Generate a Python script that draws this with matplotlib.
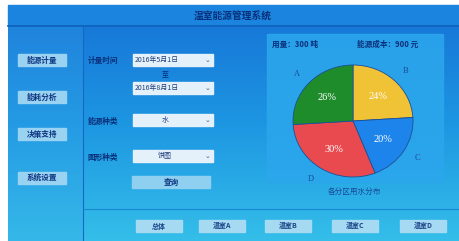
import numpy as np
import matplotlib
matplotlib.use("Agg")
import matplotlib.pyplot as plt
from matplotlib.patches import Rectangle

plt.rcParams['font.family'] = ['Noto Sans CJK SC', 'DejaVu Sans']

title = "温室能源管理系统"
menu_items = ["能源计量", "能耗分析", "决策支持", "系统设置"]
date_from = "2016年5月1日"
date_to = "2016年8月1日"
energy_kind = "水"
chart_kind = "饼图"
usage_text = "用量：300 吨"
cost_text = "能源成本：900 元"
pie_title = "各分区用水分布"
tabs = ["总体", "温室A", "温室B", "温室C", "温室D"]

zones = ["B", "C", "D", "A"]
shares = [24, 20, 30, 26]
zone_colors = ["#f0c235", "#1c84ea", "#e84a4f", "#1f8c2c"]

W, H = 459, 241
fig = plt.figure(figsize=(W / 100, H / 100), dpi=100)
fig.patch.set_facecolor("white")

ui = fig.add_axes([0, 0, 1, 1])
ui.set_xlim(0, W)
ui.set_ylim(H, 0)
ui.axis("off")

# screen background gradient
grad = np.linspace(0, 1, 200).reshape(-1, 1)
cmap = matplotlib.colors.LinearSegmentedColormap.from_list("bg", ["#1672d6", "#1d96e2", "#34bee9"])
ui.imshow(grad, extent=(8, W, H, 5), cmap=cmap, aspect="auto", zorder=0)
ui.add_patch(Rectangle((8, 26), 75, H - 26, color="#3aa8ea", alpha=0.25, lw=0, zorder=1))

# title bar
ui.add_patch(Rectangle((8, 5), W - 8, 21, color="#1a84de", zorder=1))
ui.plot([8, W], [26, 26], color="#0f5fb8", lw=1.2, zorder=2)
ui.text(233, 16, title, ha="center", va="center", fontsize=7, color="#0a2f7a", weight="bold", zorder=3)

# left menu panel
ui.plot([83, 83], [26, H], color="#1568c4", lw=0.8, zorder=2)
menu_y = [60, 97, 134, 178]
for label, y in zip(menu_items, menu_y):
    ui.add_patch(Rectangle((18, y - 6), 48, 12, color="#9ad2f2", zorder=2))
    ui.text(42, y, label, ha="center", va="center", fontsize=5.5, color="#0e357f", weight="bold", zorder=3)

# bottom bar
ui.plot([83, W], [209, 209], color="#1a86d0", lw=0.8, zorder=2)
tab_x = [159, 222, 288, 355, 423]
for label, x in zip(tabs, tab_x):
    ui.add_patch(Rectangle((x - 23, 220), 46, 12, color="#a6daf2", zorder=2))
    ui.text(x, 226, label, ha="center", va="center", fontsize=5, color="#1a4388", weight="bold", zorder=3)

# query form
def dropdown(y, text, center=False):
    ui.add_patch(Rectangle((133, y - 6), 80, 12, color="#e4f1fb", zorder=2))
    if center:
        ui.text(165, y, text, ha="center", va="center", fontsize=5, color="#1f3f7a", zorder=3)
    else:
        ui.text(135, y, text, ha="left", va="center", fontsize=5, color="#1f3f7a", zorder=3)
    ui.text(207, y + 0.5, "⌄", ha="center", va="center", fontsize=5, color="#3a5a9a", zorder=3)

ui.text(88, 60, "计量时间", ha="left", va="center", fontsize=5.5, color="#0a2f7a", weight="bold", zorder=3)
dropdown(60, date_from)
ui.text(165, 74, "至", ha="center", va="center", fontsize=5, color="#0a2f7a", zorder=3)
dropdown(88, date_to)
ui.text(88, 121, "能源种类", ha="left", va="center", fontsize=5.5, color="#0a2f7a", weight="bold", zorder=3)
dropdown(120, energy_kind, center=True)
ui.text(88, 157, "图形种类", ha="left", va="center", fontsize=5.5, color="#0a2f7a", weight="bold", zorder=3)
dropdown(156, chart_kind, center=True)
ui.add_patch(Rectangle((132, 176), 78, 12, color="#8fd0f0", zorder=2))
ui.text(171, 182, "查询", ha="center", va="center", fontsize=5.5, color="#0e357f", weight="bold", zorder=3)

# chart panel
ui.add_patch(Rectangle((267, 34), 176, 148, color="#2ba6ec", alpha=0.9, zorder=1))
ui.text(272, 44, usage_text, ha="left", va="center", fontsize=5.5, color="#0a2f7a", weight="bold", zorder=3)
ui.text(357, 44, cost_text, ha="left", va="center", fontsize=5.5, color="#0a2f7a", weight="bold", zorder=3)
ui.text(354, 192, pie_title, ha="center", va="center", fontsize=5.5, color="#1a4a96", zorder=3)

# pie
cx, cy, rx, ry = 353, 121, 60, 56
pie_ax = fig.add_axes([(cx - rx) / W, 1 - (cy + ry) / H, 2 * rx / W, 2 * ry / H])
pie_ax.patch.set_alpha(0)
wedges, texts, autotexts = pie_ax.pie(
    shares, labels=zones, colors=zone_colors, startangle=90, counterclock=False,
    autopct="%d%%", pctdistance=0.6, labeldistance=1.22,
    wedgeprops=dict(edgecolor="#1d4f96", linewidth=0.6),
    textprops=dict(fontsize=6, color="#1a4a96", family=["Liberation Serif", "DejaVu Serif"]))
for t in autotexts:
    t.set_color("white")
    t.set_fontsize(7.5)
pie_ax.set_aspect("auto")
pie_ax.set_xlim(-1, 1)
pie_ax.set_ylim(-1, 1)
pie_ax.axis("off")
for t in texts:
    t.set_clip_on(False)

fig.savefig("out.png", dpi=100)
